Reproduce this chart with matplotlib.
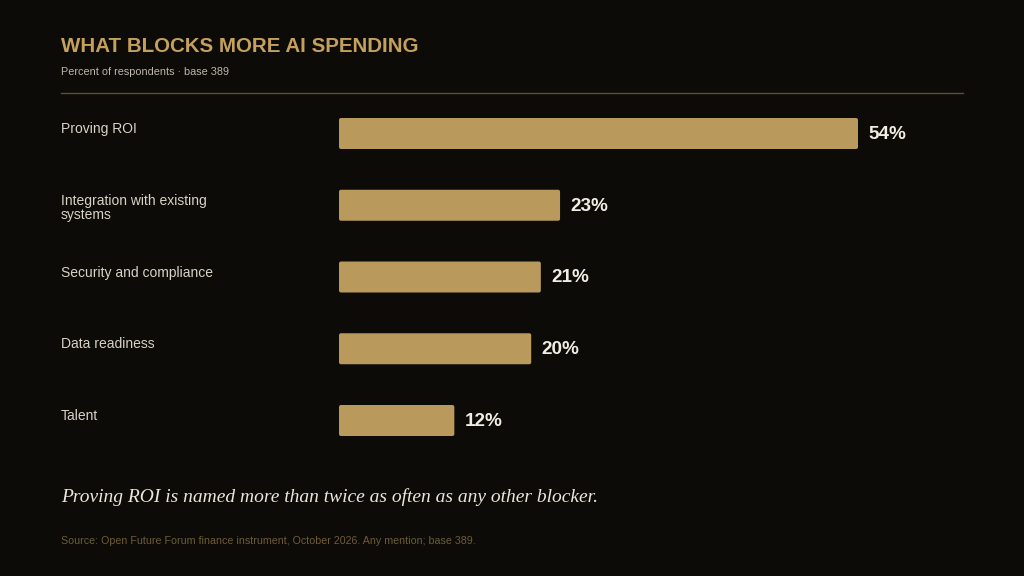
import matplotlib.pyplot as plt
import matplotlib.transforms as mtransforms
from matplotlib.patches import FancyBboxPatch

# Data
categories = ['Proving ROI', 'Integration with existing\nsystems', 'Security and compliance',
              'Data readiness', 'Talent']
values = [54, 23, 21, 20, 12]
value_labels = ['54%', '23%', '21%', '20%', '12%']

bg = '#0d0b08'
gold = '#b99a5c'
title_gold = '#c4a05a'
rule = '#5e4f30'
text_light = '#d8d2c6'

plt.rcParams['font.family'] = ['Liberation Sans', 'DejaVu Sans']

fig = plt.figure(figsize=(10.24, 5.76), dpi=100, facecolor=bg)

W, H = 1024, 576
px_per_unit = 519 / 54
step = 71.75
ax_left = 339
ax_w = 60 * px_per_unit
ax_top = 133.5 - step / 2
ax_h = 5 * step
ax = fig.add_axes([ax_left / W, 1 - (ax_top + ax_h) / H, ax_w / W, ax_h / H])
ax.set_facecolor(bg)
ax.set_xlim(0, 60)
ax.set_ylim(4.5, -0.5)
ax.axis('off')

# Bars with slightly rounded corners
bar_h = 31 / step
r_x = 2 / px_per_unit
aspect = (1 / step) / (1 / px_per_unit)
for i, v in enumerate(values):
    p = FancyBboxPatch((0, i - bar_h / 2), v, bar_h,
                       boxstyle=f'round,pad=0,rounding_size={r_x}',
                       mutation_aspect=aspect, facecolor=gold, edgecolor='none')
    ax.add_patch(p)
    ax.text(v + 10.5 / px_per_unit, i + 1 / step, value_labels[i], color='#f2ede2',
            fontsize=13.6, fontweight='bold', va='center', ha='left')

# Category labels on the left, aligned to each bar's top
trans = mtransforms.blended_transform_factory(fig.transFigure, ax.transData)
for i, c in enumerate(categories):
    ax.text(61 / W, i - bar_h / 2 + 4 / step, c, transform=trans, color=text_light,
            fontsize=10, va='top', ha='left', linespacing=1.0)

# Header
fig.text(61 / W, 1 - 47 / H, 'WHAT BLOCKS MORE AI SPENDING', color=title_gold,
         fontsize=14.8, fontweight='bold', va='center', ha='left')
fig.text(61 / W, 1 - 72 / H, 'Percent of respondents \u00b7 base 389', color='#bdb6aa',
         fontsize=7.8, va='center', ha='left')
fig.add_artist(plt.Line2D([61 / W, 963 / W], [1 - 93 / H, 1 - 93 / H], color=rule, lw=1,
                          transform=fig.transFigure))

# Takeaway and source
fig.text(61 / W, 1 - 497 / H, 'Proving ROI is named more than twice as often as any other blocker.',
         color='#ece6da', fontsize=14, fontstyle='italic',
         family=['Liberation Serif', 'DejaVu Serif'], va='center', ha='left')
fig.text(61 / W, 1 - 541 / H,
         'Source: Open Future Forum finance instrument, October 2026. Any mention; base 389.',
         color='#6e5c36', fontsize=7.7, va='center', ha='left')

fig.savefig('out.png', dpi=100, facecolor=bg)
